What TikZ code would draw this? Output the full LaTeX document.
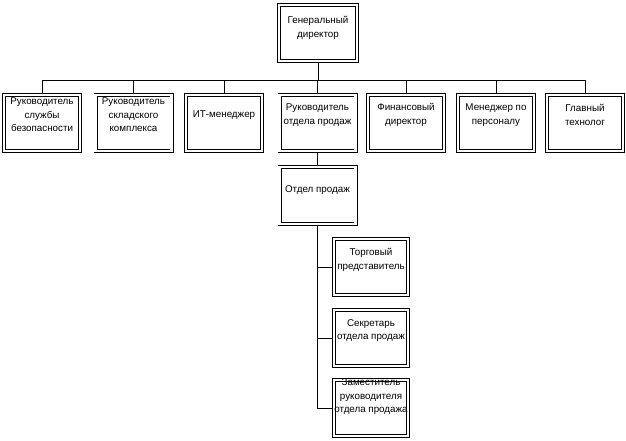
\documentclass[tikz,border=0pt]{standalone}
\usepackage{fontspec}
\setmainfont{Liberation Sans}
\tikzset{
  orgbox/.style={draw, double=white, double distance=2.4pt, line width=0.8pt,
    minimum width=76pt, minimum height=56pt, inner sep=0pt, outer sep=2pt},
  lbl/.style={font=\fontsize{9.8}{13.5}\selectfont, align=center, inner sep=0pt},
  conn/.style={line width=0.8pt}
}
% name, cx, top, text offset, text
\newcommand\orgunit[5]{%
  \node[orgbox] (#1) at (#2,#3+30) {};
  \node[lbl] (#1t) at (#2,#3+#4) {#5};
}
\begin{document}
\begin{tikzpicture}[x=1pt,y=-1pt]
\useasboundingbox (0,0) rectangle (626,441);
\coordinate (bus) at (0,80);
% top
\node[orgbox, minimum width=78pt] (gd) at (318,33) {};
\node[lbl] (gdt) at (318,28) {Генеральный\\директор};
% row
\orgunit{b1}{42}{93}{22}{Руководитель\\службы\\безопасности}
\orgunit{b2}{133.5}{93}{22}{Руководитель\\складского\\комплекса}
\orgunit{b3}{224}{93}{22}{ИТ-менеджер}
\orgunit{b4}{317.5}{93}{22}{Руководитель\\отдела продаж}
\orgunit{b5}{406}{93}{22}{Финансовый\\директор}
\orgunit{b6}{496}{93}{22}{Менеджер по\\персоналу}
\orgunit{b7}{585}{93}{22}{Главный\\технолог}
% department
\node[orgbox, minimum height=57pt] (op) at (317.5,195.5) {};
\node[lbl] (opt) at (317.5,190) {Отдел продаж};
% subordinates
\node[orgbox, minimum width=74pt] (sA) at (371,267) {};
\node[lbl] (sAt) at (371,260) {Торговый\\представитель};
\node[orgbox, minimum width=74pt] (sB) at (371,338) {};
\node[lbl] (sBt) at (371,330.5) {Секретарь\\отдела продаж};
\node[orgbox, minimum width=74pt] (sC) at (371,408) {};
\node[lbl] (sCt) at (371,397) {Заместитель\\руководителя\\отдела продажа};
% connectors
\foreach \b in {b1,b2,b3,b4,b5,b6,b7}
  \draw[conn] (gd.south) -- (gd.south |- bus) -| (\b.north);
\draw[conn] (b4.south) -- (op.north);
\foreach \s in {sA,sB,sC}
  \draw[conn] (op.south) |- (\s.west);
\end{tikzpicture}
\end{document}
